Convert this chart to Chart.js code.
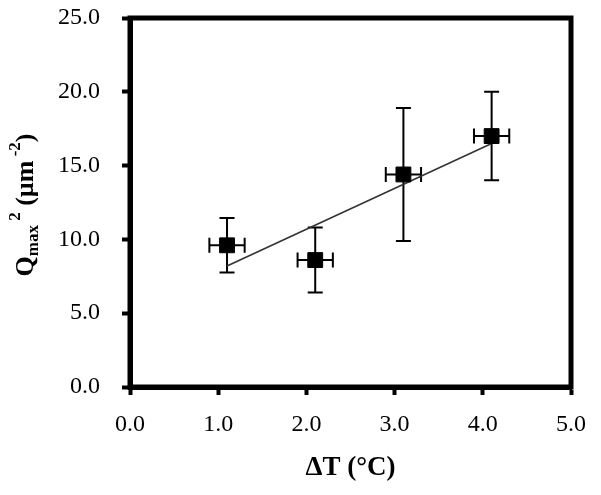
<!DOCTYPE html>
<html>
<head>
<meta charset="utf-8">
<script src="https://cdn.jsdelivr.net/npm/chart.js@4"></script>
<style>
  html, body { margin: 0; padding: 0; background: #fff; }
  #wrap { width: 601px; height: 495px; }
</style>
</head>
<body>
<div id="wrap"><canvas id="chart" width="601" height="495"></canvas></div>
<script>
// Measured points (delta T vs Qmax^2)
const deltaT = [1.1, 2.1, 3.1, 4.1];
const qmax2 = [9.6, 8.6, 14.4, 17.0];
const xErr = [0.2, 0.2, 0.2, 0.2];
const yErr = [1.85, 2.2, 4.5, 3.0];

// Trend line end points
const trendX = [1.1, 4.1];
const trendY = [8.2, 16.5];

const FONT = "'Liberation Serif', 'Times New Roman', serif";

// Error bars, drawn under the markers
const errorBars = {
    id: 'errorBars',
    beforeDatasetsDraw(chart) {
        const ctx = chart.ctx;
        const xs = chart.scales.x;
        const ys = chart.scales.y;
        const cap = 7.5;
        ctx.save();
        ctx.strokeStyle = '#000';
        ctx.lineWidth = 2;
        deltaT.forEach((x, i) => {
            const px = xs.getPixelForValue(x);
            const py = ys.getPixelForValue(qmax2[i]);
            const yTop = ys.getPixelForValue(qmax2[i] + yErr[i]);
            const yBot = ys.getPixelForValue(qmax2[i] - yErr[i]);
            const xL = xs.getPixelForValue(x - xErr[i]);
            const xR = xs.getPixelForValue(x + xErr[i]);
            ctx.beginPath();
            ctx.moveTo(px, yTop); ctx.lineTo(px, yBot);
            ctx.moveTo(px - cap, yTop); ctx.lineTo(px + cap, yTop);
            ctx.moveTo(px - cap, yBot); ctx.lineTo(px + cap, yBot);
            ctx.moveTo(xL, py); ctx.lineTo(xR, py);
            ctx.moveTo(xL, py - cap); ctx.lineTo(xL, py + cap);
            ctx.moveTo(xR, py - cap); ctx.lineTo(xR, py + cap);
            ctx.stroke();
        });
        ctx.restore();
    }
};

// Box frame and y axis title with sub/superscripts
const frameAndTitle = {
    id: 'frameAndTitle',
    afterDraw(chart) {
        const ctx = chart.ctx;
        const a = chart.chartArea;
        ctx.save();
        ctx.strokeStyle = '#000';
        ctx.lineWidth = 5;
        ctx.strokeRect(a.left, a.top, a.right - a.left, a.bottom - a.top);

        // y title, rotated
        ctx.translate(33, 205);
        ctx.rotate(-Math.PI / 2);
        ctx.fillStyle = '#000';
        ctx.textBaseline = 'alphabetic';
        const big = 'bold 26px ' + FONT;
        const small = 'bold 17px ' + FONT;
        const parts = [
            { t: 'Q', f: big, dy: 0 },
            { t: 'max', f: small, dy: 5 },
            { t: ' 2', f: small, dy: -13 },
            { t: ' (\u00b5m', f: big, dy: 0 },
            { t: ' -2', f: small, dy: -13 },
            { t: ')', f: big, dy: 0 }
        ];
        let total = 0;
        parts.forEach(p => { ctx.font = p.f; total += ctx.measureText(p.t).width; });
        let x = -total / 2;
        parts.forEach(p => {
            ctx.font = p.f;
            ctx.fillText(p.t, x, p.dy);
            x += ctx.measureText(p.t).width;
        });
        ctx.restore();
    }
};

new Chart(document.getElementById('chart').getContext('2d'), {
    type: 'scatter',
    data: {
        datasets: [
            {
                label: 'Qmax2',
                data: deltaT.map((x, i) => ({ x: x, y: qmax2[i] })),
                pointStyle: 'rect',
                pointRadius: 10.5,
                backgroundColor: '#000',
                borderColor: '#000',
                borderWidth: 1
            },
            {
                label: 'trend',
                type: 'line',
                data: trendX.map((x, i) => ({ x: x, y: trendY[i] })),
                borderColor: '#333',
                borderWidth: 1.6,
                pointRadius: 0,
                fill: false
            }
        ]
    },
    options: {
        responsive: false,
        animation: false,
        layout: { padding: { top: 18, right: 30, left: 0, bottom: 0 } },
        plugins: {
            legend: { display: false },
            tooltip: { enabled: false }
        },
        scales: {
            x: {
                type: 'linear',
                min: 0,
                max: 5,
                afterFit(scale) {
                    scale.height = 108;
                    scale.paddingLeft = 0;
                    scale.paddingRight = 0;
                },
                ticks: {
                    stepSize: 1,
                    color: '#000',
                    font: { family: FONT, size: 24 },
                    padding: 15,
                    callback: v => v.toFixed(1)
                },
                grid: {
                    drawOnChartArea: false,
                    drawTicks: true,
                    tickLength: 8,
                    tickWidth: 4,
                    tickColor: '#000'
                },
                border: { display: true, color: '#000', width: 5 },
                title: {
                    display: true,
                    text: '\u0394T (\u00b0C)',
                    color: '#000',
                    font: { family: FONT, size: 27, weight: 'bold' },
                    padding: { top: 0, bottom: 11 }
                }
            },
            y: {
                type: 'linear',
                min: 0,
                max: 25,
                afterFit(scale) {
                    scale.width = 130;
                    scale.paddingTop = 0;
                    scale.paddingBottom = 0;
                },
                ticks: {
                    stepSize: 5,
                    color: '#000',
                    font: { family: FONT, size: 24 },
                    padding: 22,
                    callback: v => v.toFixed(1)
                },
                grid: {
                    drawOnChartArea: false,
                    drawTicks: true,
                    tickLength: 8,
                    tickWidth: 4,
                    tickColor: '#000'
                },
                border: { display: true, color: '#000', width: 5 }
            }
        }
    },
    plugins: [errorBars, frameAndTitle]
});
</script>
</body>
</html>
